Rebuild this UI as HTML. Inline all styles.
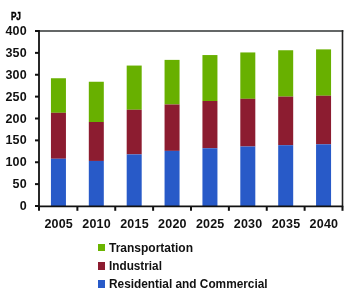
<!DOCTYPE html>
<html><head><meta charset="utf-8"><style>
html,body{will-change:transform;margin:0;padding:0;background:#fff;width:352px;height:301px;overflow:hidden;position:relative;font-family:"Liberation Sans",sans-serif;color:#111}
svg{position:absolute;left:0;top:0}
.yl{position:absolute;right:325.1px;font-size:12.5px;font-weight:bold;line-height:14px;text-align:right;white-space:nowrap;letter-spacing:0.2px}
.xl{position:absolute;top:217px;width:40px;text-align:center;font-size:12.5px;font-weight:bold;line-height:14px;letter-spacing:0.2px}
.pj{position:absolute;left:10.5px;top:12px;-webkit-text-stroke:0.45px #000;font-size:10px;font-weight:bold;line-height:10px;transform:scaleX(0.82);transform-origin:0 0;letter-spacing:-0.2px;color:#000}
.sq{position:absolute;left:97.7px;width:7.7px;height:7.5px}
.lt{position:absolute;left:109px;font-size:12px;font-weight:bold;line-height:14px;white-space:nowrap;transform:scaleX(0.975);transform-origin:0 0}
</style></head><body>
<svg width="352" height="301" viewBox="0 0 352 301">
<rect x="50.94" y="78.25" width="15.0" height="34.56" fill="#68b000"/>
<rect x="50.94" y="112.81" width="15.0" height="45.94" fill="#8c1c30"/>
<rect x="50.94" y="158.75" width="15.0" height="47.25" fill="#285ac8"/>
<rect x="88.81" y="81.75" width="15.0" height="40.25" fill="#68b000"/>
<rect x="88.81" y="122.00" width="15.0" height="38.94" fill="#8c1c30"/>
<rect x="88.81" y="160.94" width="15.0" height="45.06" fill="#285ac8"/>
<rect x="126.69" y="65.56" width="15.0" height="44.19" fill="#68b000"/>
<rect x="126.69" y="109.75" width="15.0" height="44.62" fill="#8c1c30"/>
<rect x="126.69" y="154.38" width="15.0" height="51.62" fill="#285ac8"/>
<rect x="164.56" y="59.88" width="15.0" height="44.62" fill="#68b000"/>
<rect x="164.56" y="104.50" width="15.0" height="46.38" fill="#8c1c30"/>
<rect x="164.56" y="150.88" width="15.0" height="55.12" fill="#285ac8"/>
<rect x="202.44" y="55.06" width="15.0" height="45.94" fill="#68b000"/>
<rect x="202.44" y="101.00" width="15.0" height="47.25" fill="#8c1c30"/>
<rect x="202.44" y="148.25" width="15.0" height="57.75" fill="#285ac8"/>
<rect x="240.31" y="52.44" width="15.0" height="46.38" fill="#68b000"/>
<rect x="240.31" y="98.81" width="15.0" height="47.69" fill="#8c1c30"/>
<rect x="240.31" y="146.50" width="15.0" height="59.50" fill="#285ac8"/>
<rect x="278.19" y="50.25" width="15.0" height="46.38" fill="#68b000"/>
<rect x="278.19" y="96.62" width="15.0" height="48.56" fill="#8c1c30"/>
<rect x="278.19" y="145.19" width="15.0" height="60.81" fill="#285ac8"/>
<rect x="316.06" y="49.38" width="15.0" height="46.38" fill="#68b000"/>
<rect x="316.06" y="95.75" width="15.0" height="48.56" fill="#8c1c30"/>
<rect x="316.06" y="144.31" width="15.0" height="61.69" fill="#285ac8"/>
<path d="M39.0 31.0 H343.3" fill="none" stroke="#303434" stroke-width="1.7"/>
<path d="M342.5 30.1 V206.0" fill="none" stroke="#222" stroke-width="1.6"/>
<path d="M39.0 30.0 V206.3" fill="none" stroke="#111" stroke-width="1.8"/>
<path d="M38.1 206.3 H343.2" fill="none" stroke="#111" stroke-width="1.8"/>
<path d="M35 206.00 H39.0" stroke="#111" stroke-width="2"/>
<path d="M35 184.12 H39.0" stroke="#111" stroke-width="2"/>
<path d="M35 162.25 H39.0" stroke="#111" stroke-width="2"/>
<path d="M35 140.38 H39.0" stroke="#111" stroke-width="2"/>
<path d="M35 118.50 H39.0" stroke="#111" stroke-width="2"/>
<path d="M35 96.62 H39.0" stroke="#111" stroke-width="2"/>
<path d="M35 74.75 H39.0" stroke="#111" stroke-width="2"/>
<path d="M35 52.88 H39.0" stroke="#111" stroke-width="2"/>
<path d="M35 31.00 H39.0" stroke="#111" stroke-width="2"/>
<path d="M39.00 206.0 V210.8" stroke="#111" stroke-width="2"/>
<path d="M77.38 206.0 V210.8" stroke="#111" stroke-width="2"/>
<path d="M115.25 206.0 V210.8" stroke="#111" stroke-width="2"/>
<path d="M153.12 206.0 V210.8" stroke="#111" stroke-width="2"/>
<path d="M191.00 206.0 V210.8" stroke="#111" stroke-width="2"/>
<path d="M228.88 206.0 V210.8" stroke="#111" stroke-width="2"/>
<path d="M266.75 206.0 V210.8" stroke="#111" stroke-width="2"/>
<path d="M304.62 206.0 V210.8" stroke="#111" stroke-width="2"/>
<path d="M342.50 206.0 V210.8" stroke="#111" stroke-width="2"/>
</svg>
<div class="pj">PJ</div>
<div class="yl" style="top:199.0px">0</div><div class="yl" style="top:177.1px">50</div><div class="yl" style="top:155.2px">100</div><div class="yl" style="top:133.4px">150</div><div class="yl" style="top:111.5px">200</div><div class="yl" style="top:89.6px">250</div><div class="yl" style="top:67.8px">300</div><div class="yl" style="top:45.9px">350</div><div class="yl" style="top:24.0px">400</div><div class="xl" style="left:38.7px">2005</div><div class="xl" style="left:76.6px">2010</div><div class="xl" style="left:114.5px">2015</div><div class="xl" style="left:152.4px">2020</div><div class="xl" style="left:190.2px">2025</div><div class="xl" style="left:228.1px">2030</div><div class="xl" style="left:266.0px">2035</div><div class="xl" style="left:303.9px">2040</div>
<i class="sq" style="top:243.9px;background:#6ab400"></i><span class="lt" style="top:240.6px;transform:scaleX(1.0)">Transportation</span>
<i class="sq" style="top:262.1px;background:#8c1c30"></i><span class="lt" style="top:258.7px;transform:scaleX(0.98)">Industrial</span>
<i class="sq" style="top:280.3px;background:#285ac8"></i><span class="lt" style="top:276.6px;transform:scaleX(0.987)">Residential and Commercial</span>
</body></html>
